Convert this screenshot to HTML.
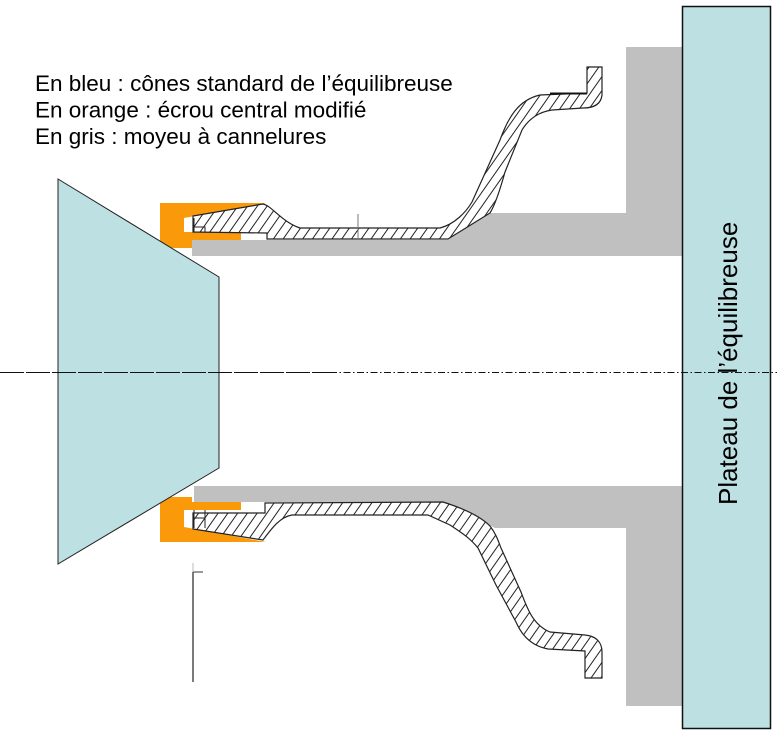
<!DOCTYPE html>
<html>
<head>
<meta charset="utf-8">
<style>
  html,body{margin:0;padding:0;background:#fff;}
  svg{display:block;}
</style>
</head>
<body>
<svg width="777" height="734" viewBox="0 0 777 734" xmlns="http://www.w3.org/2000/svg">
  <defs>
    <pattern id="h" width="8" height="10" patternUnits="userSpaceOnUse" patternTransform="rotate(35)">
      <line x1="1" y1="0" x2="1" y2="10" stroke="#222" stroke-width="1"/>
    </pattern>
  </defs>
  <rect x="0" y="0" width="777" height="734" fill="#fff"/>

  <!-- grey hub -->
  <polygon points="192,240 448,240 490,213 626,213 626,47 682,47 682,256 192,256" fill="#c0c0c0"/>
  <polygon points="194,486 682,486 682,706 626,706 626,528 495,528 443,502 194,502" fill="#c0c0c0"/>

  <!-- orange nut -->
  <polygon points="160,203 266,203 184,218 184,232 241,232 241,240 192,240 192,248 160,248" fill="#fa9a0a"/>
  <polygon points="160,497 192,497 192,502 241,502 241,510 184,510 184,527 266,542 160,542" fill="#fa9a0a"/>

  <!-- upper wheel section -->
  <path d="M193,216 L263,204 C272,206 282,222 300,228 L440,228 C455,224 466,212 472,202 L500,140 C508,118 518,100 540,95 L587,93 L587,67 L602,67 L602,95 C601,104 594,108 583,108 L552,110 C538,112 528,120 522,130 L505,172 C500,190 495,205 490,213 L448,239 L267,239 L267,233 L193,232 Z"
        fill="#fff" stroke="none"/>
  <path d="M193,216 L263,204 C272,206 282,222 300,228 L440,228 C455,224 466,212 472,202 L500,140 C508,118 518,100 540,95 L587,93 L587,67 L602,67 L602,95 C601,104 594,108 583,108 L552,110 C538,112 528,120 522,130 L505,172 C500,190 495,205 490,213 L448,239 L267,239 L267,233 L193,232 Z"
        fill="url(#h)" stroke="#222" stroke-width="1.2"/>
  <line x1="550" y1="93.5" x2="587" y2="93.5" stroke="#111" stroke-width="2"/>
  <path d="M194,218 L194,232 M193,227 L205,227 L205,232" stroke="#222" stroke-width="1" fill="none"/>
  <line x1="358" y1="214" x2="358" y2="240" stroke="#777" stroke-width="1"/>

  <!-- lower wheel section -->
  <path d="M193,513 L265,513 L265,503 L443,502 C462,508 480,516 490,526 C496,534 498,540 501,548 L521,592 C527,608 533,625 550,632 L585,635 C596,636 602,642 602,652 L602,678 L585,678 L585,651 L548,649 C532,646 522,636 516,622 L496,585 L478,548 C470,538 462,533 450,525 L428,515 L292,515 C280,517 272,528 263,540 L193,529 Z"
        fill="#fff" stroke="none"/>
  <path d="M193,513 L265,513 L265,503 L443,502 C462,508 480,516 490,526 C496,534 498,540 501,548 L521,592 C527,608 533,625 550,632 L585,635 C596,636 602,642 602,652 L602,678 L585,678 L585,651 L548,649 C532,646 522,636 516,622 L496,585 L478,548 C470,538 462,533 450,525 L428,515 L292,515 C280,517 272,528 263,540 L193,529 Z"
        fill="url(#h)" stroke="#222" stroke-width="1.2"/>
  <path d="M194,510 L194,528 M193,518 L205,518 M205,510 L205,528" stroke="#222" stroke-width="1" fill="none"/>

  <!-- cone -->
  <polygon points="58,179 219,277 219,468 58,564" fill="#bde0e3" stroke="#222" stroke-width="1"/>

  <!-- small vertical line -->
  <line x1="193" y1="572" x2="193" y2="682" stroke="#222" stroke-width="1.2"/>
  <line x1="193" y1="572" x2="203" y2="572" stroke="#555" stroke-width="1.2"/>
  <line x1="193" y1="563" x2="193" y2="572" stroke="#bbb" stroke-width="1"/>

  <!-- plate -->
  <rect x="682.5" y="6.5" width="88" height="722" fill="#bde0e3" stroke="#111" stroke-width="1.5"/>
  <text transform="translate(737,505) rotate(-90)" font-family="Liberation Sans, Arial, sans-serif" font-size="26" fill="#000">Plateau de l’équilibreuse</text>

  <!-- centerline -->
  <line x1="0" y1="372.5" x2="330" y2="372.5" stroke="#111" stroke-width="1" stroke-dasharray="24 2"/>
  <line x1="330" y1="372.5" x2="777" y2="372.5" stroke="#111" stroke-width="1" stroke-dasharray="7 2.5 1.5 2.5"/>

  <!-- legend -->
  <g font-family="Liberation Sans, Arial, sans-serif" font-size="22.5" fill="#000">
    <text x="35" y="91">En bleu : cônes standard de l’équilibreuse</text>
    <text x="35" y="117.5">En orange : écrou central modifié</text>
    <text x="35" y="144">En gris : moyeu à cannelures</text>
  </g>
</svg>
</body>
</html>
